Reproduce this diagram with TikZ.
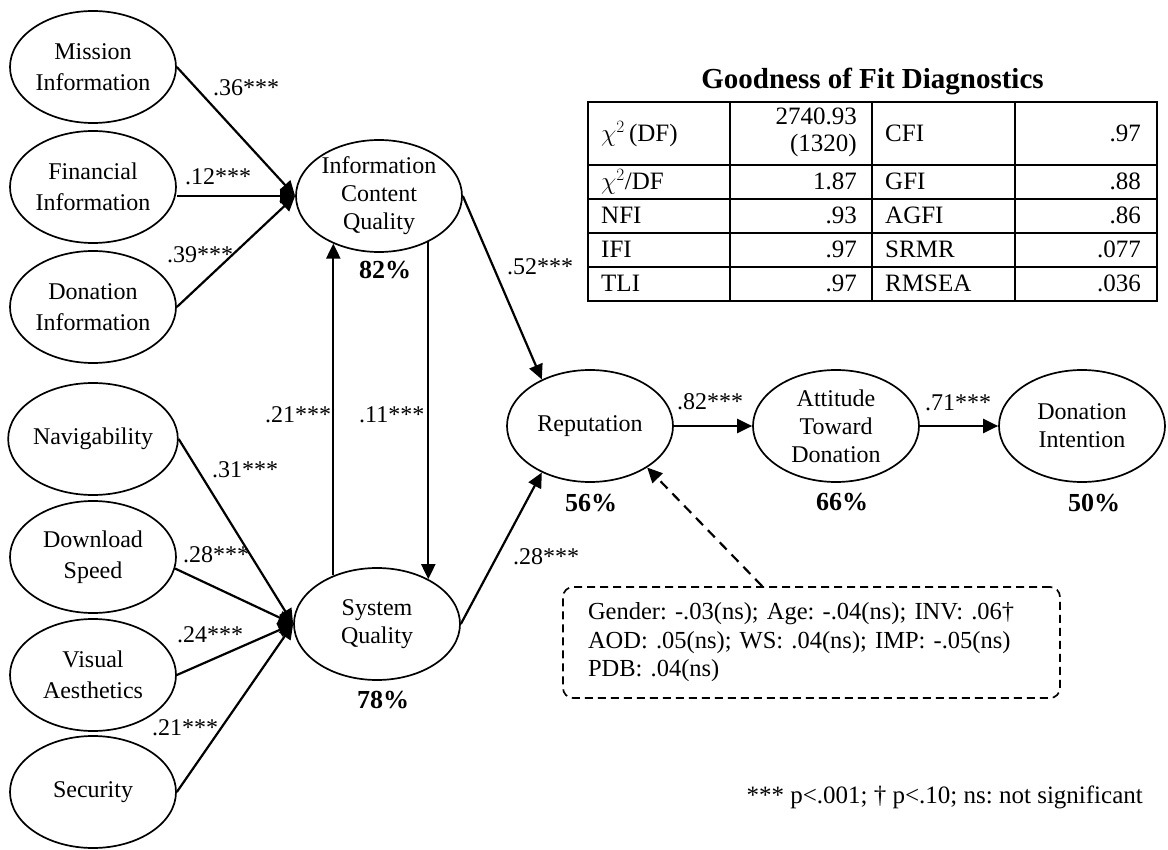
\documentclass[tikz,border=0pt]{standalone}
\usepackage{fontspec}
\setmainfont{Liberation Serif}
\usetikzlibrary{arrows.meta,shapes.geometric}
\frenchspacing
\begin{document}
\begin{tikzpicture}[x=1pt,y=-1pt,
  lat/.style={ellipse, draw, line width=1.7pt, minimum width=166pt, minimum height=112pt, inner sep=0pt, align=center, font=\fontsize{24}{28}\selectfont},
  latL/.style={lat, font=\fontsize{24}{30.5}\selectfont},
  arr/.style={line width=2.2pt, -{Triangle[length=15pt,width=14pt]}},
  darr/.style={line width=2.2pt, dash pattern=on 10pt off 7pt, -{Triangle[length=15pt,width=14pt]}},
  coef/.style={font=\fontsize{24}{28}\selectfont, inner sep=0pt},
  rsq/.style={font=\fontsize{26}{30}\selectfont\bfseries, inner sep=0pt},
  tc/.style={font=\fontsize{25}{27}\selectfont, inner sep=0pt},
  tline/.style={line width=2pt}
]
\useasboundingbox (0,0) rectangle (1168,850);

% latent variables
\node[latL] (mis) at (93,67) {Mission\\Information};
\node[latL] (fin) at (93,187) {Financial\\Information};
\node[latL] (don) at (93,307) {Donation\\Information};
\node[latL] (nav) at (93,439) {Navigability};
\node[latL] (dls) at (93,557) {Download\\Speed};
\node[latL] (vis) at (93,675) {Visual\\Aesthetics};
\node[latL] (sec) at (93,792) {Security};
\node[lat] (icq) at (379,196) {Information\\Content\\Quality};
\node[lat] (sq) at (377,624) {System\\Quality};
\node[lat] (rep) at (590,426) {Reputation};
\node[lat] (atd) at (836,426) {Attitude\\Toward\\Donation};
\node[lat] (di) at (1082,426) {Donation\\Intention};

% R-squared
\node[rsq] (r1) at (385,270) {82\%};
\node[rsq] (r2) at (383,700) {78\%};
\node[rsq] (r3) at (591,503) {56\%};
\node[rsq] (r4) at (842,502) {66\%};
\node[rsq] (r5) at (1094,503) {50\%};

% paths
\draw[arr] (mis.east) -- (icq.west);
\draw[arr] (fin.east |- icq.west) -- (icq.west);
\draw[arr] (don.east) -- (icq.west);
\draw[arr] (nav.east) -- (sq.west);
\draw[arr] (dls.-8) -- (sq.west);
\draw[arr] (vis.east) -- (sq.west);
\draw[arr] (sec.east) -- (sq.west);
\draw[arr] (sq.132) -- (sq.132 |- icq.226);
\draw[arr] (icq.-43) -- (icq.-43 |- sq.41);
\draw[arr] (icq.east) -- (rep.136);
\draw[arr] (sq.east) -- (rep.224);
\draw[arr] (rep.east) -- (atd.west);
\draw[arr] (atd.east) -- (di.west);

% coefficients
\node[coef, anchor=west] (c1) at (213,88) {.36***};
\node[coef, anchor=west] (c2) at (185,177) {.12***};
\node[coef, anchor=west] (c3) at (167,255) {.39***};
\node[coef, anchor=west] (c4) at (265,415) {.21***};
\node[coef, anchor=west] (c5) at (359,415) {.11***};
\node[coef, anchor=west] (c6) at (212,470) {.31***};
\node[coef, anchor=west] (c7) at (183,555) {.28***};
\node[coef, anchor=west] (c8) at (177,635) {.24***};
\node[coef, anchor=west] (c9) at (152,728) {.21***};
\node[coef, anchor=west] (c10) at (507,267) {.52***};
\node[coef, anchor=west] (c11) at (513,557) {.28***};
\node[coef, anchor=west] (c12) at (677,402) {.82***};
\node[coef, anchor=west] (c13) at (925,403) {.71***};

% control variables box
\node[draw, rounded corners=10pt, line width=1.7pt, dash pattern=on 8pt off 5pt,
      text width=447pt, inner xsep=25pt, inner ysep=0pt, minimum height=111pt, align=left,
      font=\fontsize{24.5}{28.5}\selectfont] (box) at (811.5,642.5)
  {Gender: -.03(ns); Age: -.04(ns); INV: .06†\\AOD: .05(ns); WS: .04(ns); IMP: -.05(ns)\\PDB: .04(ns)};
\draw[darr] ([xshift=200pt]box.north west) -- (rep.-36);

% fit table
\node[font=\fontsize{29}{34}\selectfont\bfseries, inner sep=0pt, anchor=base] (title) at (872.5,89) {Goodness of Fit Diagnostics};
\draw[tline] (588,102) rectangle (1157,301);
\foreach \yy in {165,199,233,267} \draw[tline] (588,\yy) -- (1157,\yy);
\foreach \xx in {730,872,1015} \draw[tline] (\xx,102) -- (\xx,301);

\node[tc, anchor=base west] (t11) at (601,142) {$\chi^2$\,(DF)};
\node[tc, anchor=east, align=right] (t12) at (857,132) {2740.93\\(1320)};
\node[tc, anchor=base west] (t13) at (885,142) {CFI};
\node[tc, anchor=base east] (t14) at (1141,142) {.97};

\node[tc, anchor=base west] (t21) at (601,190) {$\chi^2$/DF};
\node[tc, anchor=base east] (t22) at (857,190) {1.87};
\node[tc, anchor=base west] (t23) at (885,190) {GFI};
\node[tc, anchor=base east] (t24) at (1141,190) {.88};

\node[tc, anchor=base west] (t31) at (601,224) {NFI};
\node[tc, anchor=base east] (t32) at (857,224) {.93};
\node[tc, anchor=base west] (t33) at (885,224) {AGFI};
\node[tc, anchor=base east] (t34) at (1141,224) {.86};

\node[tc, anchor=base west] (t41) at (601,258) {IFI};
\node[tc, anchor=base east] (t42) at (857,258) {.97};
\node[tc, anchor=base west] (t43) at (885,258) {SRMR};
\node[tc, anchor=base east] (t44) at (1141,258) {.077};

\node[tc, anchor=base west] (t51) at (601,292) {TLI};
\node[tc, anchor=base east] (t52) at (857,292) {.97};
\node[tc, anchor=base west] (t53) at (885,292) {RMSEA};
\node[tc, anchor=base east] (t54) at (1141,292) {.036};

% note
\node[tc, anchor=base east] (note) at (1143,803) {*** p<.001; † p<.10; ns: not significant};
\end{tikzpicture}
\end{document}
